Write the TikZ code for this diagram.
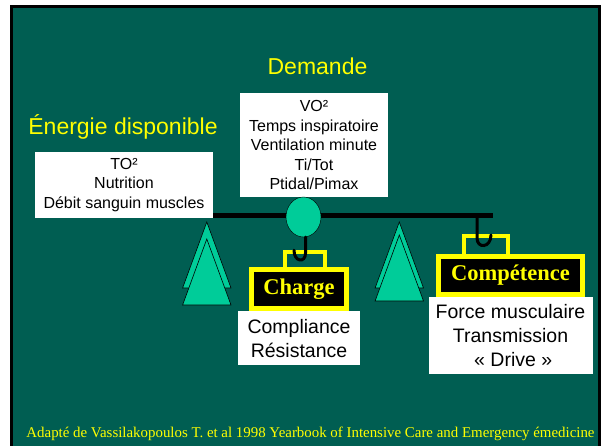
\documentclass[tikz,border=0pt]{standalone}
\usepackage{fontspec}
\setmainfont{Liberation Sans}
\newfontfamily\timesfont{Liberation Serif}
\usetikzlibrary{positioning}
\usetikzlibrary{shapes.geometric}
\definecolor{myfond}{RGB}{0,94,82}
\definecolor{mymint}{RGB}{0,204,153}
\definecolor{myjaune}{RGB}{255,255,0}
\tikzstyle{titre} = [text=myjaune, font=\fontsize{23}{27}\selectfont, anchor=base]
\tikzstyle{liste} = [rectangle, fill=white, text=black, align=center, inner sep=0pt, font=\fontsize{16}{19.5}\selectfont]
\tikzstyle{grande} = [rectangle, fill=white, text=black, align=center, inner sep=0pt, font=\fontsize{19.5}{24}\selectfont]
\tikzstyle{poids} = [rectangle, draw=myjaune, line width=5pt, fill=black, text=myjaune, inner sep=0pt, font=\timesfont\bfseries\fontsize{22.5}{26}\selectfont]
\tikzstyle{anse} = [rectangle, draw=myjaune, line width=4pt, inner sep=0pt]
\tikzstyle{pied} = [fill=mymint, draw=black, line width=0.6pt]
\tikzstyle{crochet} = [line width=3pt, black, line cap=round]

\begin{document}
\begin{tikzpicture}[x=1pt,y=-1pt]
	\useasboundingbox (0,0) rectangle (602,446);
	% fond
	\begin{scope}
		\clip (0,0) rectangle (602,446);
		\draw[fill=myfond, line width=2.8pt] (11.5,6.4) rectangle (599.8,460);
	\end{scope}
	% fleau et pieds
	\coordinate (fg) at (138,216);
	\coordinate (fd) at (493,216);
	\coordinate (accroche) at (477,217);
	\draw[line width=5pt] (fg) -- (fd);
	\foreach \x/\y in {206.8/239, 399.3/235}{
		\filldraw[pied] (\x,222) -- ({\x-24.2},288) -- ({\x+24.2},288) -- cycle;
		\filldraw[pied] (\x,\y) -- ({\x-24.2},{\y+66}) -- ({\x+24.2},{\y+66}) -- cycle;
	}
	\node (energie)[titre] at (123,135) {Énergie disponible};
	\node (demande)[titre] at (317.5,75) {Demande};
	\node (to)[liste, minimum width=178pt, minimum height=66pt] at (124,185) {TO²\\Nutrition\\Débit sanguin muscles};
	\node (vo)[liste, minimum width=148pt, minimum height=104pt] at (314,145) {VO²\\Temps inspiratoire\\Ventilation minute\\Ti/Tot\\Ptidal/Pimax};
	\node (pivot)[ellipse, draw=black, fill=mymint, minimum width=35pt, minimum height=40pt, inner sep=0pt] at (303.5,217) {};
	% poids
	\node (anse1)[anse, minimum width=40pt, minimum height=17.5pt] at (305,260.75) {};
	\node (charge)[poids, minimum width=95pt, minimum height=39pt] at (299,289) {Charge};
	\node (compl)[grande, minimum width=122pt, minimum height=54pt, below=0pt of charge] {Compliance\\Résistance};
	\node (anse2)[anse, minimum width=44pt, minimum height=20.5pt] at (486,246.25) {};
	\node (comp)[poids, minimum width=144pt, minimum height=38pt] at (510.5,275.5) {Compétence};
	\node (force)[grande, minimum width=164pt, minimum height=77pt, below=0pt of comp] {Force musculaire\\Transmission\\~« Drive »};
	\draw[crochet] ([xshift=2pt]pivot.south) -- ++(0,16) .. controls +(0,10) and +(0,12) .. ++(-11.5,-3);
	\draw[crochet] (accroche) -- ++(0,21) .. controls +(0,11) and +(0,13) .. ++(14,-3);
	\node (ref)[text=myjaune, font=\timesfont\fontsize{14.9}{17}\selectfont, anchor=base] at (310.5,437) {Adapté de Vassilakopoulos T. et al 1998 Yearbook of Intensive Care and Emergency émedicine};
\end{tikzpicture}
\end{document}
